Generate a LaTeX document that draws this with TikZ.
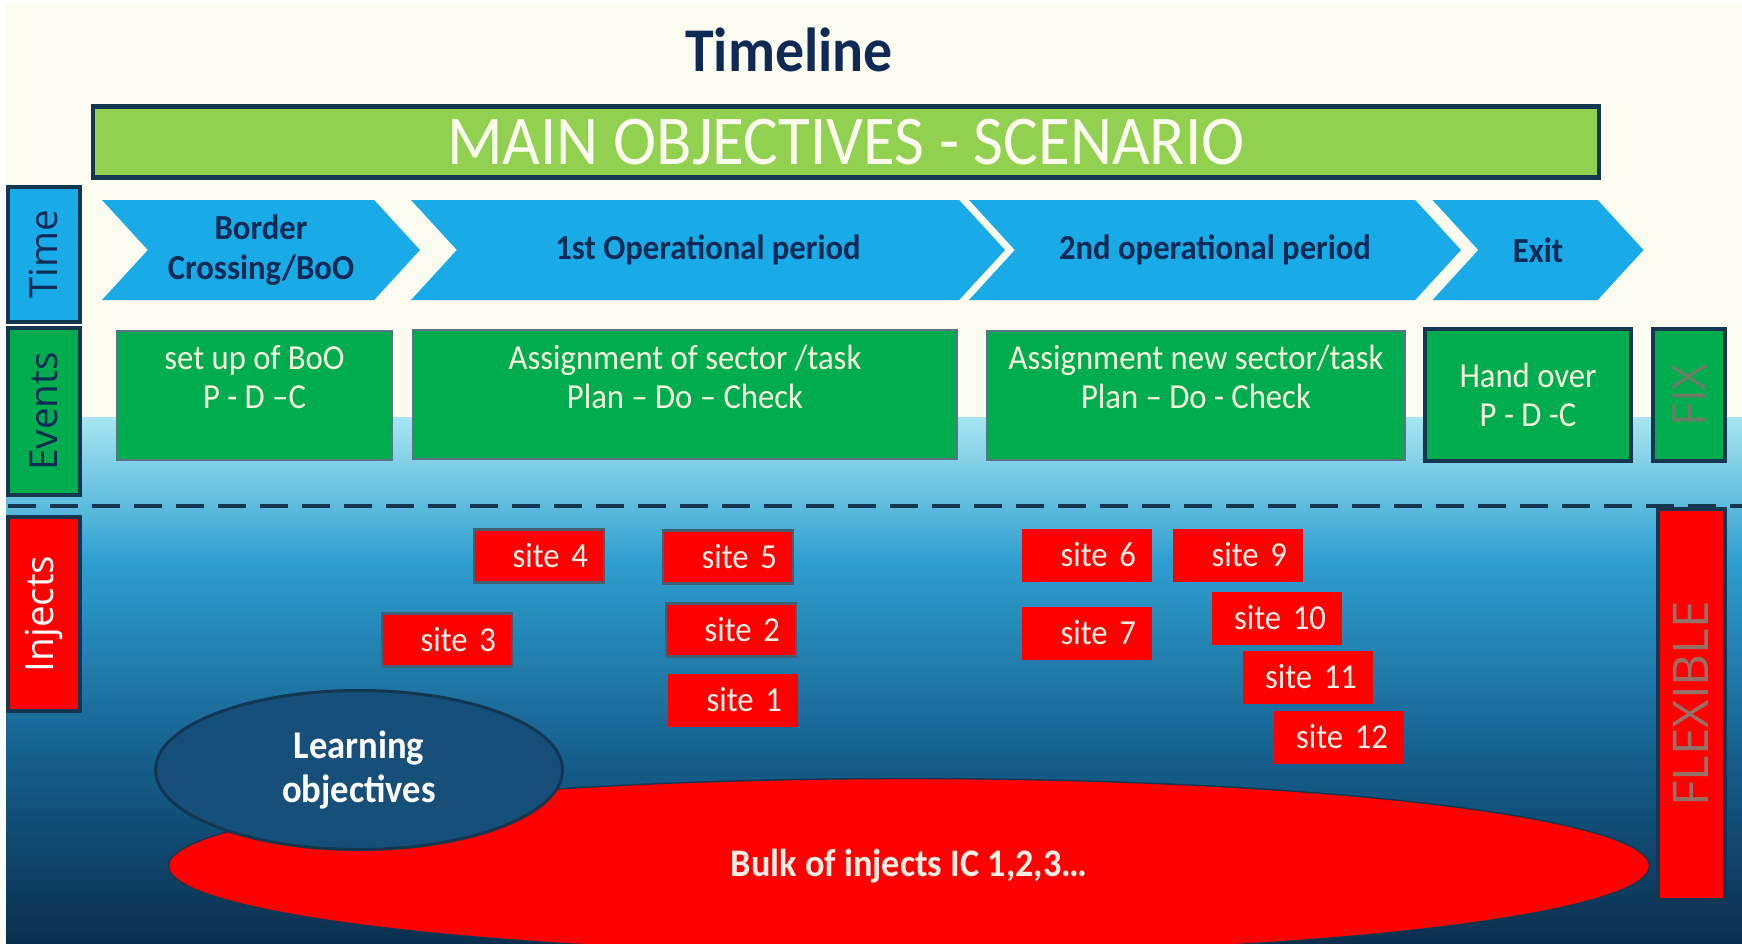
\documentclass[tikz,border=0pt]{standalone}
\usepackage{fontspec}
\setmainfont[FakeStretch=0.93]{Carlito}
\newfontfamily\sidefont{Open Sans}
\usetikzlibrary{shapes.geometric,shapes.symbols}

\definecolor{cream}{HTML}{FBFBEF}
\definecolor{navyline}{HTML}{15364F}
\definecolor{navytext}{HTML}{0E2A55}
\definecolor{mainbar}{HTML}{92D050}
\definecolor{chevblue}{HTML}{19ABE8}
\definecolor{evgreen}{HTML}{00AD4E}
\definecolor{evtext}{HTML}{F6F6DE}
\definecolor{sitered}{HTML}{FF0000}
\definecolor{sitetext}{HTML}{FBEDE4}
\definecolor{lrnblue}{HTML}{154F7A}
\definecolor{surface}{HTML}{A8E6F2}
\definecolor{midwater}{HTML}{2E9FD0}
\definecolor{lowwater}{HTML}{155E8C}
\definecolor{deepwater}{HTML}{0A2F4E}
\definecolor{fixtext}{HTML}{6E7C66}
\definecolor{flextext}{HTML}{967168}

\begin{document}
\begin{tikzpicture}
  [x=0.1mm, y=-0.1mm]
  \tikzstyle{side_box}   = [draw=navyline, line width=0.45mm, minimum height=7.2mm, inner sep=0pt, rotate=90, font=\sidefont\fontsize{11}{13}\selectfont];
  \tikzstyle{period}     = [signal, signal to=east, signal from=west, signal pointer angle=95, fill=chevblue, minimum height=10mm, inner sep=0pt, align=center, text=navytext, font=\bfseries\fontsize{10}{11.5}\selectfont];
  \tikzstyle{event_box}  = [draw=navyline!70, fill=evgreen, minimum height=12.9mm, inner sep=0pt];
  \tikzstyle{event_text} = [align=center, text=evtext, font=\fontsize{10}{11}\selectfont];
  \tikzstyle{site_box}   = [fill=sitered, minimum width=13mm, minimum height=5.3mm, inner xsep=1.6mm, text width=9.8mm, align=right, text=sitetext, font=\fontsize{10}{11}\selectfont];
  \tikzstyle{site_edge}  = [site_box, draw=navyline!80, line width=0.25mm];

  % background, land and water
  \useasboundingbox (0,0) rectangle (1742,943);
  \fill[white] (0,0) rectangle (1742,943);
  \fill[cream] (6,4) rectangle (1742,417);
  \shade[top color=surface, bottom color=midwater] (6,417) rectangle (1742,561);
  \shade[top color=midwater, bottom color=lowwater] (6,560) rectangle (1742,761);
  \shade[top color=lowwater, bottom color=deepwater] (6,760) rectangle (1742,943);

  \node[text=navytext, font=\bfseries\fontsize{17.7}{21}\selectfont] (title) at (789, 50) {Timeline};

  \node[draw=navyline, line width=0.45mm, fill=mainbar, minimum width=150.6mm, minimum height=7.1mm, text=cream, font=\fontsize{19.9}{23}\selectfont] (main) at (846, 142) {MAIN OBJECTIVES - SCENARIO};

  \node[side_box, fill=chevblue, minimum width=13.5mm, text=navytext] (time) at (44, 254.5) {Time};
  \node[side_box, fill=evgreen, minimum width=16.7mm, text=navytext] (events) at (44, 411.5) {Events};
  \node[side_box, fill=sitered, minimum width=19.4mm, text=white] (injects) at (44, 614) {Injects};

  \node[period, minimum width=31.8mm] (border) at (261, 250) {Border\\Crossing/BoO};
  \node[period, minimum width=59.4mm] (op1) at (708, 250) {1st Operational period};
  \node[period, minimum width=49.2mm] (op2) at (1215, 250) {2nd operational period};
  \node[period, minimum width=21.1mm] (exit) at (1538, 250) {Exit};

  \node[event_box, minimum width=27.5mm] (ev1) at (254.5, 395.5) {};
  \node[event_box, minimum width=54.4mm] (ev2) at (685, 394.5) {};
  \node[event_box, minimum width=41.8mm] (ev3) at (1196, 395.5) {};
  \node[event_box, draw=navyline, line width=0.45mm, minimum width=20.6mm, minimum height=13.2mm, event_text] (ev4) at (1528, 395) {Hand over\\P - D -C};
  \node[event_box, draw=navyline, line width=0.45mm, minimum width=13.2mm, minimum height=7.2mm, rotate=90, text=fixtext, font=\sidefont\fontsize{13}{15}\selectfont] (fix) at (1689, 395) {FIX};

  \node[event_text] (ev1_text) at (254.5, 377) {set up of BoO\\P - D --C};
  \node[event_text] (ev2_text) at (685, 377) {Assignment of sector /task\\Plan -- Do -- Check};
  \node[event_text] (ev3_text) at (1196, 377) {Assignment new sector/task\\Plan -- Do - Check};

  % water line
  \draw[navyline, line width=0.4mm, dash pattern=on 2.8mm off 1.4mm] (8, 506) -- (1742, 506);

  \node[draw=navyline, line width=0.4mm, fill=sitered, minimum width=39.1mm, minimum height=6.7mm, rotate=90, text=flextext, font=\sidefont\fontsize{14}{16}\selectfont] (flexible) at (1691, 704) {FLEXIBLE};

  \node[site_edge] (site4) at (539, 556) {site 4};
  \node[site_edge] (site5) at (728, 557) {site 5};
  \node[site_edge] (site3) at (447, 640) {site 3};
  \node[site_edge] (site2) at (731, 630) {site 2};
  \node[site_box]  (site1) at (733, 700) {site 1};
  \node[site_box]  (site6) at (1087, 555) {site 6};
  \node[site_box]  (site9) at (1238, 555) {site 9};
  \node[site_box]  (site7) at (1087, 633) {site 7};
  \node[site_box]  (site10) at (1277, 618) {site 10};
  \node[site_box]  (site11) at (1308, 677) {site 11};
  \node[site_box]  (site12) at (1339, 737) {site 12};

  \node[ellipse, draw=navyline, fill=sitered, minimum width=148.1mm, minimum height=17.5mm, text=sitetext, font=\bfseries\fontsize{11.1}{13}\selectfont] (bulk) at (909, 866) {Bulk of injects IC 1,2,3\dots};
  \node[ellipse, draw=navyline, line width=0.3mm, fill=lrnblue, minimum width=40.7mm, minimum height=15.9mm, align=center, text=white, font=\bfseries\fontsize{11.2}{12.5}\selectfont] (learning) at (359, 770) {Learning\\objectives};

\end{tikzpicture}
\end{document}
